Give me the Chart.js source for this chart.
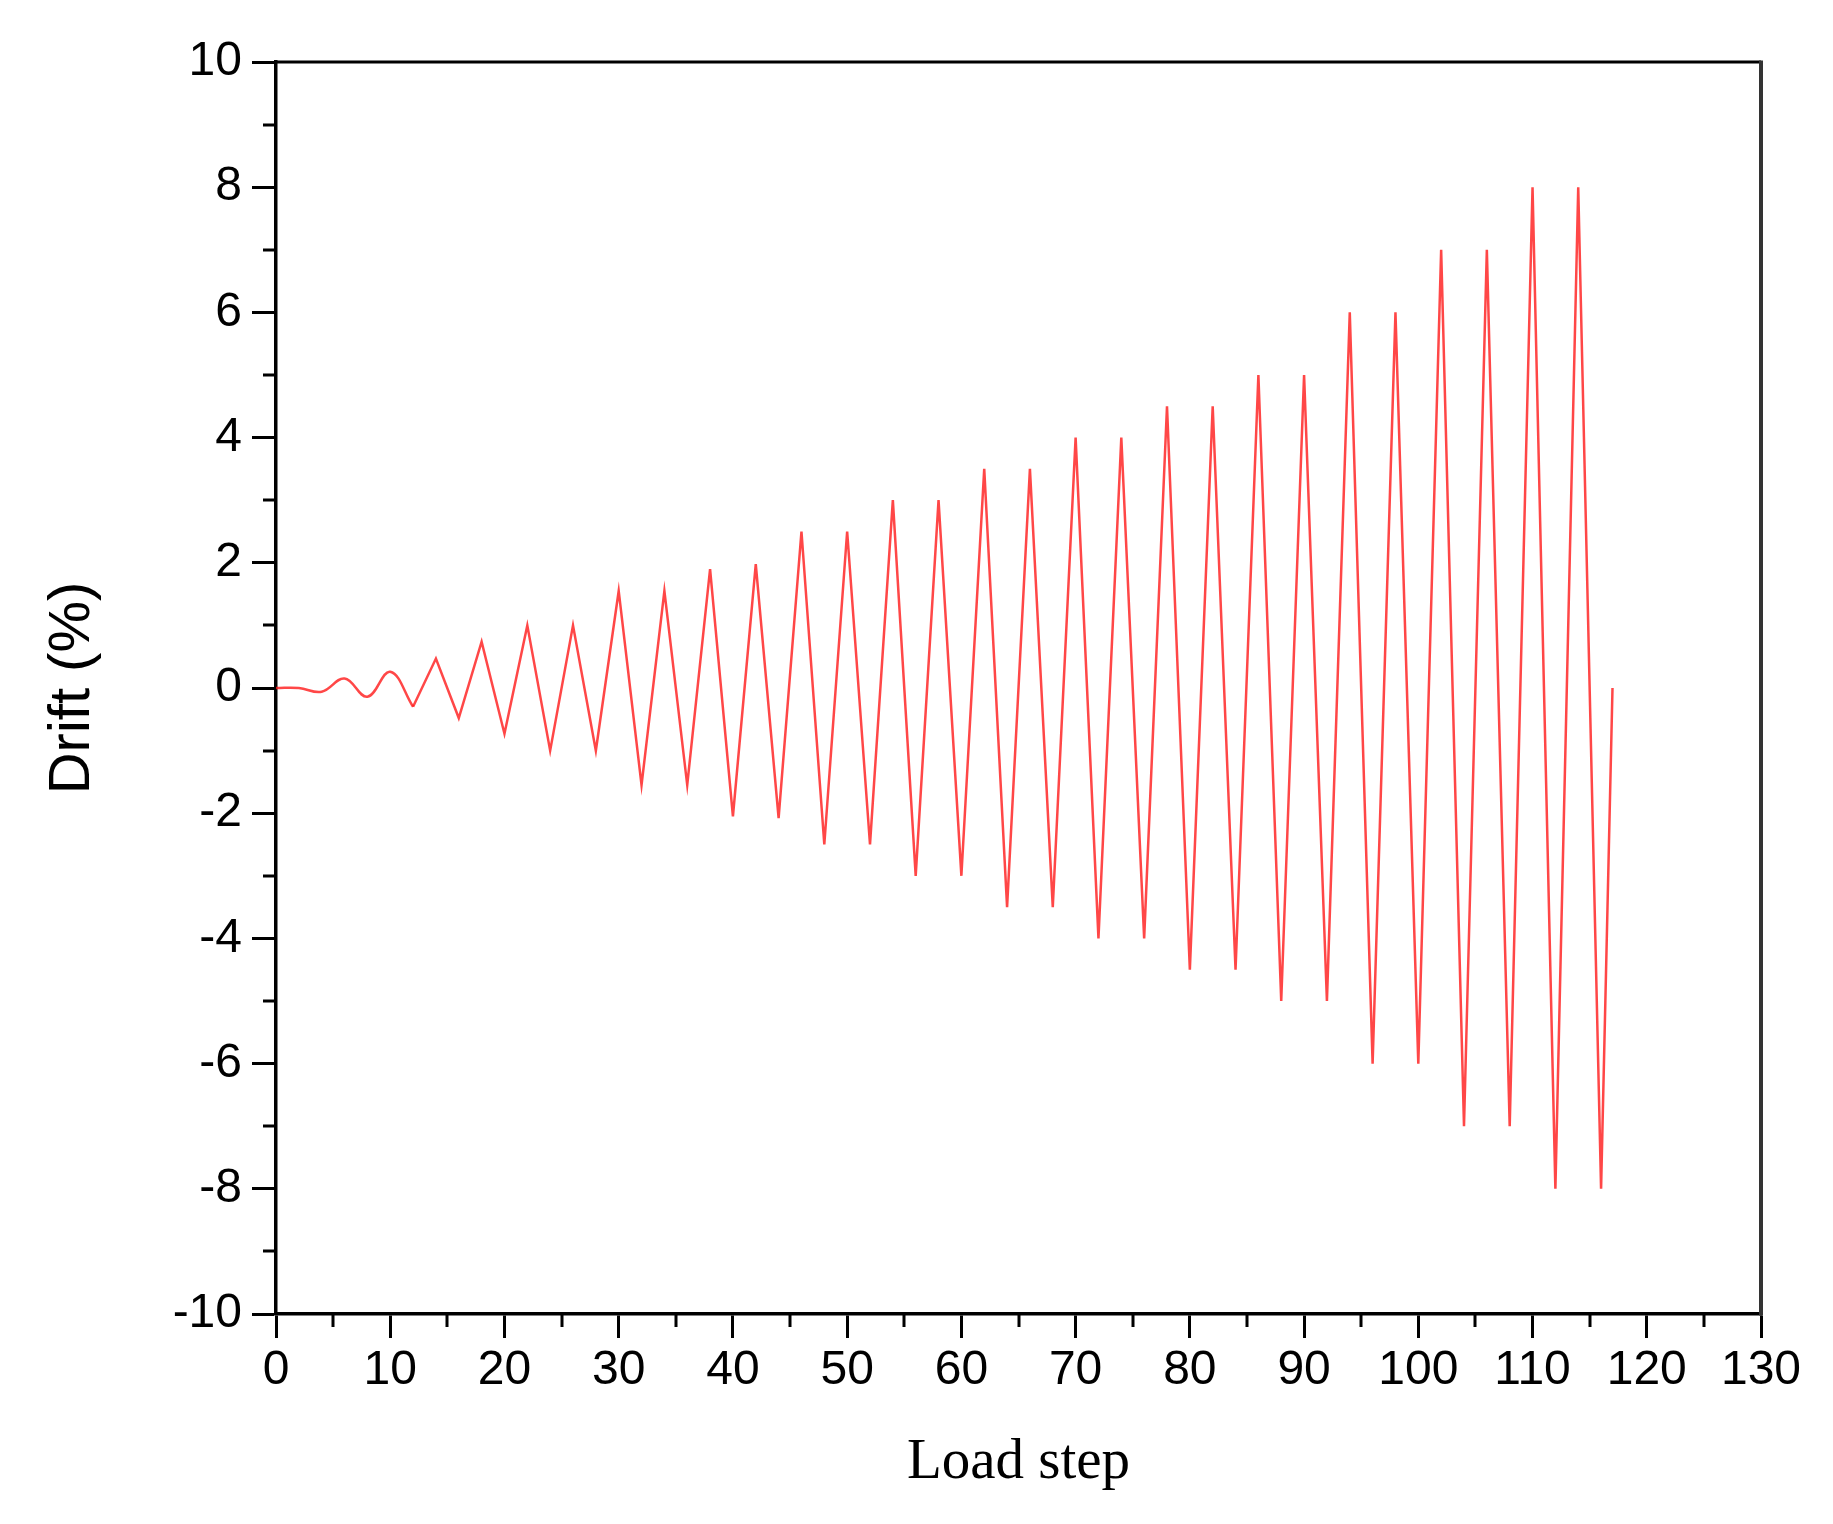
<!DOCTYPE html>
<html>
<head>
<meta charset="utf-8">
<script src="https://cdn.jsdelivr.net/npm/chart.js@4.4.1/dist/chart.umd.min.js"></script>
<style>
  html, body { margin: 0; padding: 0; background: #fff; }
  canvas { display: block; }
</style>
</head>
<body>
<canvas id="c" width="1833" height="1524"></canvas>
<script>
// ---- data ----
const loadSteps = [0, 2, 4, 6, 8, 10, 12, 14, 16, 18, 20, 22, 24, 26, 28, 30, 32, 34, 36, 38,
  40, 42, 44, 46, 48, 50, 52, 54, 56, 58, 60, 62, 64, 66, 68, 70, 72, 74, 76, 78,
  80, 82, 84, 86, 88, 90, 92, 94, 96, 98, 100, 102, 104, 106, 108, 110, 112, 114, 116, 117];
const drift = [0, 0, -0.06, 0.15, -0.14, 0.26, -0.3, 0.47, -0.48, 0.74, -0.73, 1.0, -1.0, 1.0, -1.0, 1.55, -1.55, 1.55, -1.55, 1.9,
  -2.05, 1.98, -2.08, 2.5, -2.5, 2.5, -2.5, 3, -3, 3, -3, 3.5, -3.5, 3.5, -3.5, 4, -4, 4, -4, 4.5,
  -4.5, 4.5, -4.5, 5, -5, 5, -5, 6, -6, 6, -6, 7, -7, 7, -7, 8, -8, 8, -8, 0];
const smoothEndIndex = 6; // early small cycles are drawn as a smooth curve
const xMajorTicks = [0, 10, 20, 30, 40, 50, 60, 70, 80, 90, 100, 110, 120, 130];
const yMajorTicks = [-10, -8, -6, -4, -2, 0, 2, 4, 6, 8, 10];
const xMinorTicks = [5, 15, 25, 35, 45, 55, 65, 75, 85, 95, 105, 115, 125];
const yMinorTicks = [-9, -7, -5, -3, -1, 1, 3, 5, 7, 9];
const xTitle = 'Load step';
const yTitle = 'Drift (%)';

const points = loadSteps.map((s, i) => ({ x: s, y: drift[i] }));
const smoothPart = points.slice(0, smoothEndIndex + 1);
const straightPart = points.slice(smoothEndIndex);

const LINE_COLOR = 'rgba(255,25,25,0.8)';

const framePlugin = {
  id: 'frameAndMinor',
  afterDraw(chart) {
    const { ctx, chartArea: a, scales: { x, y } } = chart;
    ctx.save();
    ctx.strokeStyle = '#000';
    ctx.lineWidth = 3;
    ctx.beginPath();
    xMinorTicks.forEach(v => {
      const px = Math.round(x.getPixelForValue(v));
      ctx.moveTo(px, a.bottom);
      ctx.lineTo(px, a.bottom + 13);
    });
    yMinorTicks.forEach(v => {
      const py = Math.round(y.getPixelForValue(v));
      ctx.moveTo(a.left, py);
      ctx.lineTo(a.left - 13, py);
    });
    ctx.stroke();
    // top and right frame
    ctx.beginPath();
    ctx.moveTo(a.left, a.top);
    ctx.lineTo(a.right, a.top);
    ctx.stroke();
    ctx.strokeStyle = '#333';
    ctx.lineWidth = 4;
    ctx.beginPath();
    ctx.moveTo(a.right, a.top - 1.5);
    ctx.lineTo(a.right, a.bottom + 1.5);
    ctx.stroke();
    ctx.restore();
  }
};

new Chart(document.getElementById('c'), {
  type: 'line',
  data: {
    datasets: [
      {
        data: smoothPart,
        borderColor: LINE_COLOR,
        borderWidth: 2.5,
        pointRadius: 0,
        tension: 0.4,
        fill: false
      },
      {
        data: straightPart,
        borderColor: LINE_COLOR,
        borderWidth: 2.5,
        pointRadius: 0,
        tension: 0,
        fill: false
      }
    ]
  },
  options: {
    responsive: false,
    devicePixelRatio: 1,
    animation: false,
    events: [],
    layout: { padding: { left: 38, right: 72, top: 62, bottom: 27 } },
    plugins: { legend: { display: false }, tooltip: { enabled: false } },
    scales: {
      x: {
        type: 'linear',
        min: 0,
        max: 130,
        afterBuildTicks: s => { s.ticks = xMajorTicks.map(v => ({ value: v })); },
        afterFit: s => { s.height = 183; },
        border: { display: true, color: '#000', width: 3.5 },
        grid: { drawOnChartArea: false, drawTicks: true, tickLength: 24, tickWidth: 3, tickColor: '#000' },
        ticks: {
          color: '#000',
          padding: 4,
          maxRotation: 0,
          autoSkip: false,
          font: { family: '"Liberation Sans", Arial, sans-serif', size: 48 }
        },
        title: {
          display: true,
          text: xTitle,
          color: '#000',
          padding: 0,
          font: { family: '"Liberation Serif", "Times New Roman", serif', size: 57 }
        }
      },
      y: {
        type: 'linear',
        min: -10,
        max: 10,
        afterBuildTicks: s => { s.ticks = yMajorTicks.map(v => ({ value: v })); },
        afterFit: s => { s.width = 238; },
        border: { display: true, color: '#000', width: 3.5 },
        grid: { drawOnChartArea: false, drawTicks: true, tickLength: 24, tickWidth: 3, tickColor: '#000' },
        ticks: {
          color: '#000',
          padding: 10,
          autoSkip: false,
          font: { family: '"Liberation Sans", Arial, sans-serif', size: 48 }
        },
        title: {
          display: true,
          text: yTitle,
          color: '#000',
          padding: 0,
          font: { family: '"Liberation Sans", Arial, sans-serif', size: 58 }
        }
      }
    }
  },
  plugins: [framePlugin]
});
</script>
</body>
</html>
